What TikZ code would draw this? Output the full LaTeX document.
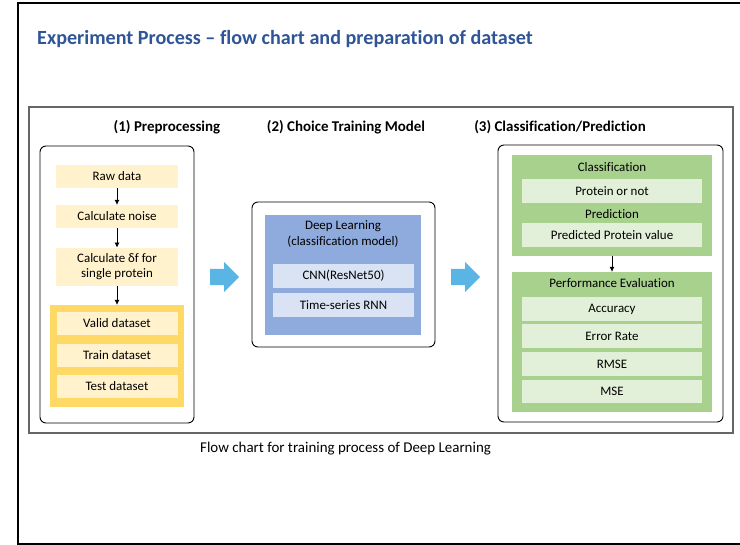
\documentclass[tikz,border=0pt]{standalone}
\usepackage{fontspec}
\setmainfont{Carlito}[Ligatures={TeX,NoCommon}]
\usetikzlibrary{arrows.meta}
\definecolor{titleblue}{HTML}{2F5597}
\definecolor{paleyellow}{HTML}{FFF2CC}
\definecolor{deepyellow}{HTML}{FFD966}
\definecolor{arrowblue}{HTML}{5BB5E4}
\definecolor{modelblue}{HTML}{8FAADC}
\definecolor{paleblue}{HTML}{DAE3F3}
\definecolor{leafgreen}{HTML}{A9D18E}
\definecolor{palegreen}{HTML}{E2F0D9}
\tikzset{
  panel/.style={draw, rounded corners=6bp, line width=0.9bp},
  heading/.style={font=\fontsize{15}{18}\selectfont\bfseries},
  yelbox/.style={fill=paleyellow, minimum width=122bp, minimum height=23bp, inner sep=0pt},
  bluebox/.style={fill=paleblue, minimum width=141bp, minimum height=24bp, inner sep=0pt},
  greenbox/.style={fill=palegreen, minimum width=180bp, minimum height=23.5bp, inner sep=0pt},
  flow/.style={-{Latex[length=5bp,width=5bp]}, line width=0.6bp},
}
\begin{document}
\begin{tikzpicture}[x=1bp,y=-1bp,font=\fontsize{13}{15.5}\selectfont]
  \useasboundingbox (0,0) rectangle (740,545);
  \draw[line width=2bp] (740,3) -- (18,3) -- (18,544) -- (740,544);
  \node[anchor=west, inner sep=0pt, text=titleblue, font=\fontsize{20.2}{24}\selectfont\bfseries] (title) at (37,39.5)
    {Experiment Process -- flow chart and preparation of dataset};
  \node[draw=gray!80!black, line width=1.2bp, minimum width=704bp, minimum height=326bp] (frame) at (381,270) {};

  \node[heading] (h1) at (167,127) {(1) Preprocessing};
  \node[heading] (h2) at (346,127) {(2) Choice Training Model};
  \node[heading] (h3) at (560,127) {(3) Classification/Prediction};

  % (1) preprocessing
  \node[panel, minimum width=154bp, minimum height=277bp] (left) at (117,284.5) {};
  \node[yelbox] (raw) at (117,176.5) {Raw data};
  \node[yelbox] (noise) at (117,216.5) {Calculate noise};
  \node[yelbox, minimum height=38bp, align=center] (delta) at (117,266.7) {Calculate δf for\\single protein};
  \node[fill=deepyellow, minimum width=134bp, minimum height=102bp] (sets) at (117,356) {};
  \node[yelbox, minimum width=121bp] (valid) at (117,323.5) {Valid dataset};
  \node[yelbox, minimum width=121bp] (train) at (117,355) {Train dataset};
  \node[yelbox, minimum width=121bp] (test) at (117,386) {Test dataset};
  \draw[flow] (raw) -- (noise);
  \draw[flow] (noise) -- (delta);
  \draw[flow] (delta) -- (sets);

  % (2) model
  \node[panel, minimum width=183bp, minimum height=145bp] (mid) at (343.5,274.5) {};
  \node[fill=modelblue, minimum width=156bp, minimum height=120bp] (dl) at (343,275) {};
  \node[align=center] (dltext) at (343,234) {Deep Learning\\(classification model)};
  \node[bluebox] (cnn) at (343.5,276) {CNN(ResNet50)};
  \node[bluebox] (rnn) at (343.5,305) {Time-series RNN};

  \foreach \x in {210,451}
    \fill[arrowblue] (\x,269) -- ++(14,0) -- ++(0,-7) -- ++(15,15) -- ++(-15,15) -- ++(0,-7) -- ++(-14,0) -- cycle;

  % (3) classification / prediction
  \node[panel, minimum width=225bp, minimum height=277bp] (right) at (610.5,283.5) {};
  \node[fill=leafgreen, minimum width=200bp, minimum height=101bp] (cls) at (612,205.5) {};
  \node (clstext) at (612,167) {Classification};
  \node[greenbox] (pnot) at (612,191) {Protein or not};
  \node (predtext) at (612,214) {Prediction};
  \node[greenbox] (pval) at (612,235) {Predicted Protein value};
  \node[fill=leafgreen, minimum width=200bp, minimum height=140bp] (perf) at (612,342) {};
  \node (perftext) at (612,283.5) {Performance Evaluation};
  \foreach \name/\y/\txt in {acc/309/Accuracy, err/336/Error Rate, rmse/364/RMSE, mse/391.5/MSE}
    \node[greenbox] (\name) at (612,\y) {\txt};
  \draw[flow] (cls) -- (perf);

  \node[anchor=west, inner sep=0pt, font=\fontsize{15}{18}\selectfont] (caption) at (200,449)
    {Flow chart for training process of Deep Learning};
\end{tikzpicture}
\end{document}
